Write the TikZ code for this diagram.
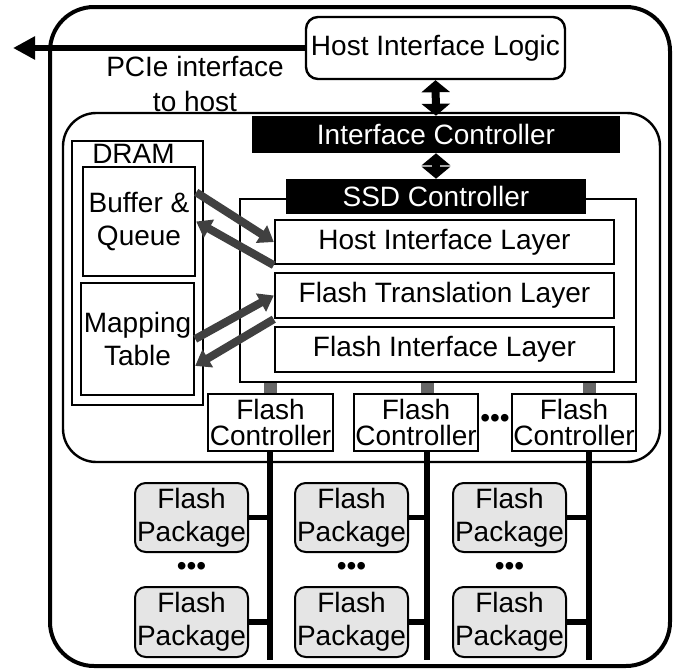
\documentclass[tikz,border=0pt]{standalone}
\usepackage{fontspec}
\setmainfont{Liberation Sans}
\usetikzlibrary{arrows.meta,fit}

\tikzset{
    lbl/.style={font=\fontsize{21}{25}\selectfont, align=center, inner sep=0pt},
    box/.style 2 args={draw, line width=1.8pt, inner sep=0pt, fit={#1}, label={[lbl]center:#2}},
    blackbox/.style 2 args={fill=black, inner sep=0pt, fit={#1}, label={[lbl, text=white]center:#2}},
    pkg/.style={draw, line width=1.5pt, inner sep=0pt, fill=black!10, rounded corners=8pt, fit={#1},
        label={[lbl]center:Flash\\Package}},
    dblarrow/.style={line width=6pt, {Triangle[length=9pt,width=21pt]}-{Triangle[length=9pt,width=21pt]}},
    grayarrow/.style={line width=6pt, black!75, -{Triangle[length=11pt,width=15pt]}},
    link/.style={line width=9.75pt, black!60},
    bus/.style={line width=4.5pt},
    stub/.style={line width=4pt},
}

\begin{document}
\begin{tikzpicture}[x=0.75pt,y=-0.75pt]
        \useasboundingbox (0,0) rectangle (676,671);

        \draw[line width=3pt, rounded corners=33pt] (50,7) rectangle (670,666);
        \draw[line width=1.8pt, rounded corners=25pt] (63,113) rectangle (660,462);

        \node[box={(306,17) (565,79)}{Host Interface Logic}, rounded corners=9pt] (hil) {};
        \coordinate (hostend) at (13,48);
        \draw[line width=5pt, -{Triangle[length=16.5pt,width=16.5pt]}] (hil.west) -- (hostend);
        \node[lbl, font=\fontsize{21}{26}\selectfont] (pcie) at (195,84) {PCIe interface\\to host};

        \node[blackbox={(252,116) (620,153)}{Interface Controller}] (ifc) {};
        \draw[dblarrow] (hil.south) -- (ifc.north);

        \node[box={(240,199) (636,382)}{}, line width=1.5pt] (ssdframe) {};
        \node[blackbox={(286,179) (586,214)}{SSD Controller}] (ssdc) {};
        \draw[dblarrow] (ifc.south) -- (ssdc.north);

        \node[box={(275,220) (614,264)}{Host Interface Layer}] (hostlayer) {};
        \node[box={(275,273) (614,318)}{Flash Translation Layer}] (ftl) {};
        \node[box={(275,327) (614,372)}{Flash Interface Layer}] (fil) {};

        %dram
        \node[box={(72,141) (203,405)}{}] (dram) {};
        \node[lbl] (dramlbl) at (133.5,154) {DRAM};
        \node[box={(83,167) (195,276)}{Buffer \&\\Queue}] (buf) {};
        \node[box={(81,283) (194,395)}{Mapping\\Table}] (map) {};

        \draw[grayarrow] (buf.27) -- (hostlayer.west);
        \draw[grayarrow] (hostlayer.south west) -- (buf.east);
        \draw[grayarrow] (map.east) -- (ftl.west);
        \draw[grayarrow] (ftl.south west) -- (map.-25);

        %flash controllers, buses and packages
        \tikzset{lbl/.append style={font=\fontsize{21}{20}\selectfont}}
        \node[box={(208,394) (333,451)}{Flash\\Controller}] (fc1) {};
        \node[box={(354,394) (478,451)}{Flash\\Controller}] (fc2) {};
        \node[box={(512,394) (636,451)}{Flash\\Controller}] (fc3) {};
        \node[lbl] (fcdots) at (495,421) {•••};

        \tikzset{lbl/.append style={font=\fontsize{21}{25}\selectfont}}
        \foreach \c/\px/\bx in {1/135/270, 2/295/427, 3/453/589} {
            \coordinate (bus\c) at (\bx,660);
            \draw[link] (ssdframe.south -| bus\c) -- (fc\c.north -| bus\c);
            \draw[bus] (fc\c.south -| bus\c) -- (bus\c);
            \node[pkg={(\px,483) ({\px+113},552)}] (pk\c a) {};
            \node[pkg={(\px,587) ({\px+113},657)}] (pk\c b) {};
            \node[lbl] (dots\c) at ({\px+56.5},569) {•••};
            \draw[stub] (pk\c a.east) -- (pk\c a.east -| bus\c);
            \draw[stub] (pk\c b.east) -- (pk\c b.east -| bus\c);
        }
\end{tikzpicture}
\end{document}
